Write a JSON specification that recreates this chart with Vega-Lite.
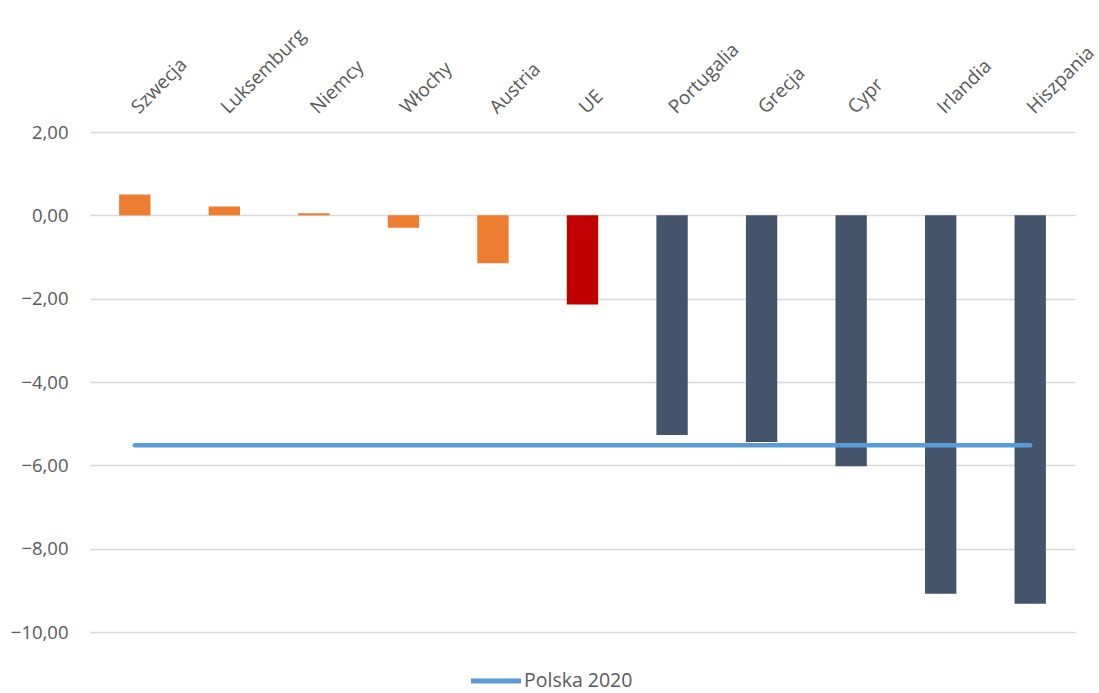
{
  "$schema": "https://vega.github.io/schema/vega-lite/v6.json",
  "width": 985,
  "height": 500,
  "autosize": {"type": "none"},
  "padding": {"left": 90, "top": 132, "right": 24, "bottom": 61},
  "background": "white",
  "config": {
    "font": "Open Sans",
    "view": {"stroke": null}
  },
  "data": {
    "values": [
      {"kraj": "Szwecja", "wartosc": 0.50, "grupa": "plus", "polska": -5.52},
      {"kraj": "Luksemburg", "wartosc": 0.21, "grupa": "plus", "polska": -5.52},
      {"kraj": "Niemcy", "wartosc": 0.05, "grupa": "plus", "polska": -5.52},
      {"kraj": "Włochy", "wartosc": -0.30, "grupa": "plus", "polska": -5.52},
      {"kraj": "Austria", "wartosc": -1.15, "grupa": "plus", "polska": -5.52},
      {"kraj": "UE", "wartosc": -2.14, "grupa": "UE", "polska": -5.52},
      {"kraj": "Portugalia", "wartosc": -5.27, "grupa": "minus", "polska": -5.52},
      {"kraj": "Grecja", "wartosc": -5.44, "grupa": "minus", "polska": -5.52},
      {"kraj": "Cypr", "wartosc": -6.02, "grupa": "minus", "polska": -5.52},
      {"kraj": "Irlandia", "wartosc": -9.08, "grupa": "minus", "polska": -5.52},
      {"kraj": "Hiszpania", "wartosc": -9.32, "grupa": "minus", "polska": -5.52}
    ]
  },
  "encoding": {
    "x": {
      "field": "kraj",
      "type": "nominal",
      "sort": null,
      "scale": {"paddingInner": 0.65, "paddingOuter": 0.325},
      "axis": {
        "orient": "top",
        "title": null,
        "domain": false,
        "ticks": false,
        "labelAngle": -45,
        "labelAlign": "left",
        "labelBaseline": "middle",
        "labelPadding": 22,
        "labelFontSize": 19,
        "labelColor": "#595959",
        "labelFont": "Open Sans"
      }
    }
  },
  "layer": [
    {
      "mark": {"type": "bar"},
      "encoding": {
        "y": {
          "field": "wartosc",
          "type": "quantitative",
          "scale": {"domain": [-10, 2], "nice": false, "zero": true},
          "axis": {
            "title": null,
            "values": [-10, -8, -6, -4, -2, 0, 2],
            "labelExpr": "replace(format(datum.value, '.2f'), '.', ',')",
            "domain": false,
            "ticks": false,
            "labelPadding": 22,
            "labelFontSize": 18.5,
            "labelColor": "#595959",
            "labelFont": "Open Sans",
            "gridColor": "#D9D9D9",
            "gridWidth": 1.5
          }
        },
        "fill": {
          "field": "grupa",
          "type": "nominal",
          "scale": {"domain": ["plus", "UE", "minus"], "range": ["#ED7D31", "#C00000", "#44546A"]},
          "legend": null
        }
      }
    },
    {
      "mark": {"type": "line", "strokeWidth": 4.5, "strokeCap": "round"},
      "encoding": {
        "y": {"field": "polska", "type": "quantitative"},
        "stroke": {
          "datum": "Polska 2020",
          "type": "nominal",
          "scale": {"domain": ["Polska 2020"], "range": ["#5B9BD5"]},
          "legend": {
            "title": null,
            "orient": "none",
            "legendX": 390,
            "legendY": 533,
            "symbolType": "M-1.85,0H1.85",
            "symbolSize": 729,
            "symbolStrokeWidth": 5,
            "labelFontSize": 19.5,
            "labelColor": "#595959",
            "labelFont": "Open Sans",
            "labelOffset": 12
          }
        }
      }
    }
  ]
}
